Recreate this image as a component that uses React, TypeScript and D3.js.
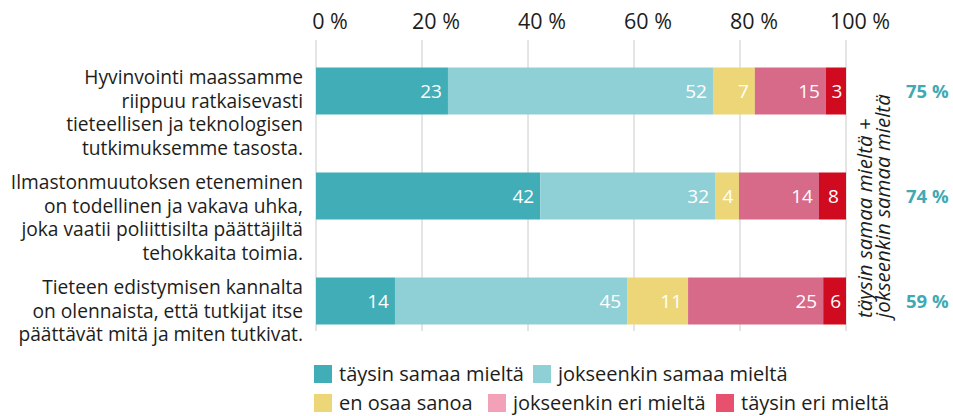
import React from "react";
import * as d3 from "d3";

const categories: string[][] = [
  ["Hyvinvointi maassamme", "riippuu ratkaisevasti", "tieteellisen ja teknologisen", "tutkimuksemme tasosta."],
  ["Ilmastonmuutoksen eteneminen", "on todellinen ja vakava uhka,", "joka vaatii poliittisilta päättäjiltä", "tehokkaita toimia."],
  ["Tieteen edistymisen kannalta", "on olennaista, että tutkijat itse", "päättävät mitä ja miten tutkivat."],
];

const seriesNames = ["täysin samaa mieltä", "jokseenkin samaa mieltä", "en osaa sanoa", "jokseenkin eri mieltä", "täysin eri mieltä"];
const barColors = ["#40adb7", "#8fd0d6", "#ecd677", "#d66a88", "#d10b1f"];
const legendColors = ["#40adb7", "#8fd0d6", "#ecd677", "#f2a1b8", "#e8516e"];

// printed values
const taysinSamaaLabels = [23, 42, 14];
const jokseenkinSamaaLabels = [52, 32, 45];
const enOsaaLabels = [7, 4, 11];
const jokseenkinEriLabels = [15, 14, 25];
const taysinEriLabels = [3, 8, 6];

// segment lengths as drawn in the picture (%)
const taysinSamaaDrawn = [24.9, 42.3, 14.9];
const jokseenkinSamaaDrawn = [50.0, 33.0, 43.8];
const enOsaaDrawn = [7.9, 4.5, 11.5];
const jokseenkinEriDrawn = [13.4, 15.1, 25.5];
const taysinEriDrawn = [3.8, 5.1, 4.3];

const totals = ["75 %", "74 %", "59 %"];
const ticks = [0, 20, 40, 60, 80, 100];
const sideTitle = ["täysin samaa mieltä +", "jokseenkin samaa mieltä"];

const W = 953;
const H = 416;
const FONT = "'Open Sans', sans-serif";
const TEXT = "#1d1d1b";

export default function App() {
  const x = d3.scaleLinear().domain([0, 100]).range([316, 846]);
  const y = d3
    .scaleBand<number>()
    .domain(d3.range(categories.length))
    .range([67.5, 324.5])
    .paddingInner(58 / 105)
    .paddingOuter(0);

  const drawn = [taysinSamaaDrawn, jokseenkinSamaaDrawn, enOsaaDrawn, jokseenkinEriDrawn, taysinEriDrawn];
  const labels = [taysinSamaaLabels, jokseenkinSamaaLabels, enOsaaLabels, jokseenkinEriLabels, taysinEriLabels];

  const rows = categories.map((_, i) => {
    const obj: Record<string, number> = {};
    seriesNames.forEach((s, k) => (obj[s] = drawn[k][i]));
    return obj;
  });
  const stacked = d3.stack<Record<string, number>>().keys(seriesNames)(rows);

  const legendRows = [
    [0, 1],
    [2, 3, 4],
  ];
  const legendX = [
    [314, 533],
    [314, 488, 716],
  ];
  const legendY = [365, 394];

  return (
    <div style={{ position: "absolute", left: 0, top: 0 }}>
      <svg width={W} height={H} style={{ display: "block", background: "#fff" }}>
        {/* gridlines */}
        {ticks.map((t) => (
          <line key={t} x1={x(t)} x2={x(t)} y1={40} y2={331} stroke="#c8cccc" strokeWidth={1} />
        ))}
        {/* tick labels */}
        {ticks.map((t) => (
          <text key={"t" + t} x={x(t) + 14} y={29} textAnchor="middle" fontFamily={FONT} fontSize={21.5} fill={TEXT}>
            {t} %
          </text>
        ))}
        {/* bars */}
        {stacked.map((layer, k) =>
          layer.map((d, i) => {
            const x0 = x(d[0]);
            const x1 = x(d[1]);
            const w = x1 - x0;
            const yy = y(i)!;
            const bw = y.bandwidth();
            const narrow = w < 30;
            return (
              <g key={k + "-" + i}>
                <rect x={x0} y={yy} width={w} height={bw} fill={barColors[k]} />
                <text
                  x={narrow ? (x0 + x1) / 2 + 1 : x1 - 6}
                  y={yy + bw / 2 + 7}
                  textAnchor={narrow ? "middle" : "end"}
                  fontFamily={FONT}
                  fontSize={19}
                  fontWeight={500}
                  fill="#fff"
                >
                  {labels[k][i]}
                </text>
              </g>
            );
          })
        )}
        {/* category labels */}
        {categories.map((lines, i) => (
          <text key={"c" + i} textAnchor="end" fontFamily={FONT} fontSize={19.2} fill={TEXT}>
            {lines.map((l, j) => (
              <tspan key={j} x={303} y={y(i)! + 16.5 + j * 23.6}>
                {l}
              </tspan>
            ))}
          </text>
        ))}
        {/* totals */}
        {totals.map((t, i) => (
          <text
            key={"tot" + i}
            x={906}
            y={y(i)! + y.bandwidth() / 2 + 7}
            fontFamily={FONT}
            fontSize={18.5}
            fontWeight={700}
            fill="#3fa9b4"
          >
            {t}
          </text>
        ))}
        {/* side title */}
        <g transform="translate(872,318) rotate(-90)">
          {sideTitle.map((s, j) => (
            <text key={j} x={0} y={j * 17.5} fontFamily={FONT} fontStyle="italic" fontSize={20.5} fill={TEXT}>
              {s}
            </text>
          ))}
        </g>
        {/* legend */}
        {legendRows.map((row, r) =>
          row.map((k, c) => {
            const lx = legendX[r][c];
            const ly = legendY[r];
            return (
              <g key={"lg" + k}>
                <rect x={lx} y={ly} width={18} height={18} fill={legendColors[k]} />
                <text x={lx + 25} y={ly + 16} fontFamily={FONT} fontSize={20} fill={TEXT}>
                  {seriesNames[k]}
                </text>
              </g>
            );
          })
        )}
      </svg>
    </div>
  );
}
